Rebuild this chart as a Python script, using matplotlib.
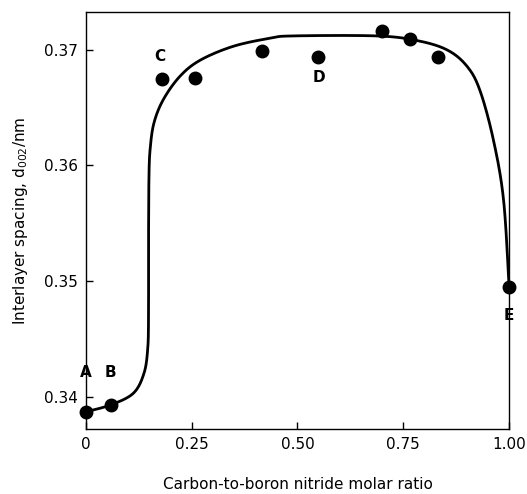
import numpy as np
import matplotlib
matplotlib.use("Agg")
import matplotlib.pyplot as plt

# measured data points
ratio = [0.0, 0.059, 0.18, 0.258, 0.415, 0.549, 0.699, 0.766, 0.833, 1.0]
spacing = [0.3387, 0.3393, 0.3675, 0.3676, 0.3699, 0.3694, 0.3716, 0.3709, 0.3694, 0.3495]

# hand-drawn trend curve (traced)
curve_x = [0.0, 0.059, 0.112, 0.137, 0.146, 0.148, 0.148, 0.149, 0.152, 0.161, 0.183, 0.222,
           0.27, 0.348, 0.435, 0.49, 0.687, 0.782, 0.853, 0.90, 0.931, 0.963, 0.987, 1.0]
curve_y = [0.3387, 0.3393, 0.3403, 0.3420, 0.3441, 0.3470, 0.3530, 0.3590, 0.3615, 0.3637, 0.3657, 0.3677,
           0.3691, 0.3703, 0.3710, 0.3712, 0.3712, 0.3708, 0.3700, 0.3686, 0.3665, 0.3622, 0.3570, 0.3495]

labels = ["A", "B", "C", "D", "E"]
label_x = [0.0, 0.059, 0.175, 0.551, 1.0]
label_y = [0.3421, 0.3421, 0.3694, 0.3676, 0.3470]

xticks = [0, 0.25, 0.5, 0.75, 1.0]
xticklabels = ["0", "0.25", "0.50", "0.75", "1.00"]
yticks = [0.34, 0.35, 0.36, 0.37]
yticklabels = ["0.34", "0.35", "0.36", "0.37"]

plt.rcParams['font.family'] = ['DejaVu Sans']

fig = plt.figure(figsize=(5.27, 4.94), dpi=100)
ax = fig.add_axes([0.163, 0.132, 0.803, 0.844])

px = np.array(curve_x)
py = np.array(curve_y)
def catmull(px, py, n=20):
    P = np.column_stack([px, (py - 0.337) / 0.036])
    P = np.vstack([P[0], P, P[-1]])
    out = []
    for i in range(1, len(P) - 2):
        p0, p1, p2, p3 = P[i-1], P[i], P[i+1], P[i+2]
        for t in np.linspace(0, 1, n, endpoint=False):
            t2, t3 = t*t, t*t*t
            pt = 0.5*((2*p1) + (-p0+p2)*t + (2*p0-5*p1+4*p2-p3)*t2 + (-p0+3*p1-3*p2+p3)*t3)
            out.append(pt)
    out.append(P[-2])
    out = np.array(out)
    return out[:, 0], out[:, 1]*0.036 + 0.337
sx, sy = catmull(px, py)
ax.plot(sx, sy, color='black', lw=2.0, solid_capstyle='round', zorder=2)
ax.plot(ratio, spacing, 'o', color='black', ms=9, zorder=3, clip_on=False)

for t, lx, ly in zip(labels, label_x, label_y):
    ax.text(lx, ly, t, ha='center', va='center', fontsize=11, fontweight='bold')

ax.set_xlim(0, 1.0)
ax.set_ylim(0.33723, 0.37328)
ax.set_xticks(xticks)
ax.set_xticklabels(xticklabels)
ax.set_yticks(yticks)
ax.set_yticklabels(yticklabels)
ax.tick_params(direction='in', length=5, width=1, labelsize=11, pad=6)
for s in ax.spines.values():
    s.set_linewidth(1.0)
ax.set_xlabel("Carbon-to-boron nitride molar ratio", fontsize=11, labelpad=18)
ax.set_ylabel("Interlayer spacing, d$_{002}$/nm", fontsize=11, labelpad=10)

fig.savefig("out.png", dpi=100)
